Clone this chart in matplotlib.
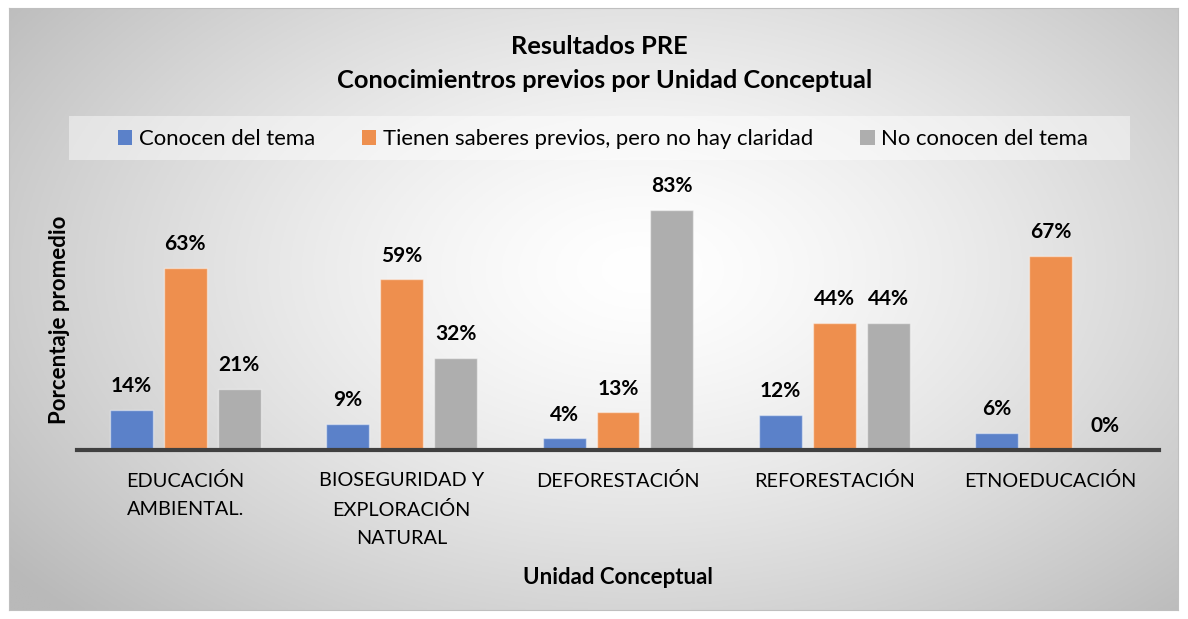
import numpy as np
import matplotlib.pyplot as plt
from matplotlib.patches import Rectangle

plt.rcParams['font.family'] = ['Lato', 'DejaVu Sans']

# datos
categorias = ['EDUCACIÓN\nAMBIENTAL.', 'BIOSEGURIDAD Y\nEXPLORACIÓN\nNATURAL',
              'DEFORESTACIÓN', 'REFORESTACIÓN', 'ETNOEDUCACIÓN']
series = ['Conocen del tema', 'Tienen saberes previos, pero no hay claridad',
          'No conocen del tema']
conocen = [14, 9, 4, 12, 6]
saberes = [63, 59, 13, 44, 67]
no_conocen = [21, 32, 83, 44, 0]
colores = ['#5B81C9', '#EE8F4E', '#AEAEAE']

W, H = 1188, 619
fig = plt.figure(figsize=(W / 100, H / 100), dpi=100)
fig.patch.set_facecolor('white')

# fondo con degradado radial
bx0, by0, bx1, by1 = 9, 8, 1178, 610
bg = fig.add_axes([bx0 / W, 1 - by1 / H, (bx1 - bx0) / W, (by1 - by0) / H])
xx, yy = np.meshgrid(np.linspace(bx0, bx1, 400), np.linspace(by0, by1, 220))
r = np.sqrt(((xx - 640) / 700) ** 2 + ((yy - 270) / 430) ** 2)
v = np.clip(255 - 58 * r ** 1.4, 185, 255) / 255
bg.imshow(np.dstack([v, v, v]), aspect='auto', extent=[0, 1, 0, 1])
bg.set_xticks([])
bg.set_yticks([])
for s in bg.spines.values():
    s.set_color('#BFBFBF')
    s.set_linewidth(0.8)
bg.set_zorder(0)

# ejes del grafico
x0, x1 = 77, 1159
base = 450
ymax = 90
alto = ymax * 2.89
ax = fig.add_axes([x0 / W, 1 - base / H, (x1 - x0) / W, alto / H])
ax.patch.set_alpha(0)
ax.set_zorder(2)

x = np.arange(len(categorias))
ancho = 0.198
paso = 0.249
for i, (vals, col) in enumerate(zip([conocen, saberes, no_conocen], colores)):
    pos = x + (i - 1) * paso
    barras = ax.bar(pos, vals, ancho, color=col, edgecolor=(1, 1, 1, 0.45),
                    linewidth=1, label=series[i])
    for p, val in zip(pos, vals):
        ax.annotate(f'{val}%', (p, val), xytext=(0, 10), textcoords='offset points',
                    ha='center', va='bottom', fontsize=15, fontweight='bold')

ax.set_xlim(-0.5, len(categorias) - 0.5)
ax.set_ylim(0, ymax)
ax.set_xticks(x)
ax.set_xticklabels(categorias, fontsize=14.3, linespacing=1.8)
ax.tick_params(axis='x', length=0, pad=16)
ax.set_yticks([])
for s in ['top', 'left', 'right']:
    ax.spines[s].set_visible(False)
ax.spines['bottom'].set_color('#404040')
ax.spines['bottom'].set_linewidth(3)

# titulos
fig.text(599 / W, 1 - 47 / H, 'Resultados PRE', ha='center', va='center',
         fontsize=18.3, fontweight='bold')
fig.text(605 / W, 1 - 81 / H, 'Conocimientros previos por Unidad Conceptual',
         ha='center', va='center', fontsize=18.3, fontweight='bold')
fig.text(618 / W, 1 - 577 / H, 'Unidad Conceptual', ha='center', va='center',
         fontsize=16, fontweight='bold')
fig.text(60 / W, 1 - 320 / H, 'Porcentaje promedio', ha='center', va='center',
         rotation=90, fontsize=16, fontweight='bold')

# leyenda
fig.patches.append(Rectangle((69 / W, 1 - 160 / H), (1130 - 69) / W, 44 / H,
                             transform=fig.transFigure, facecolor='white',
                             alpha=0.45, edgecolor='none', zorder=1))
handles, labels = ax.get_legend_handles_labels()
leg = fig.legend(handles, labels, loc='center', bbox_to_anchor=(603 / W, 1 - 139 / H),
                 ncol=3, frameon=False, fontsize=15.9, handlelength=0.65,
                 handleheight=0.65, handletextpad=0.3, columnspacing=2.14)
for h in leg.legend_handles:
    h.set_edgecolor('none')

fig.savefig('out.png', dpi=100)
